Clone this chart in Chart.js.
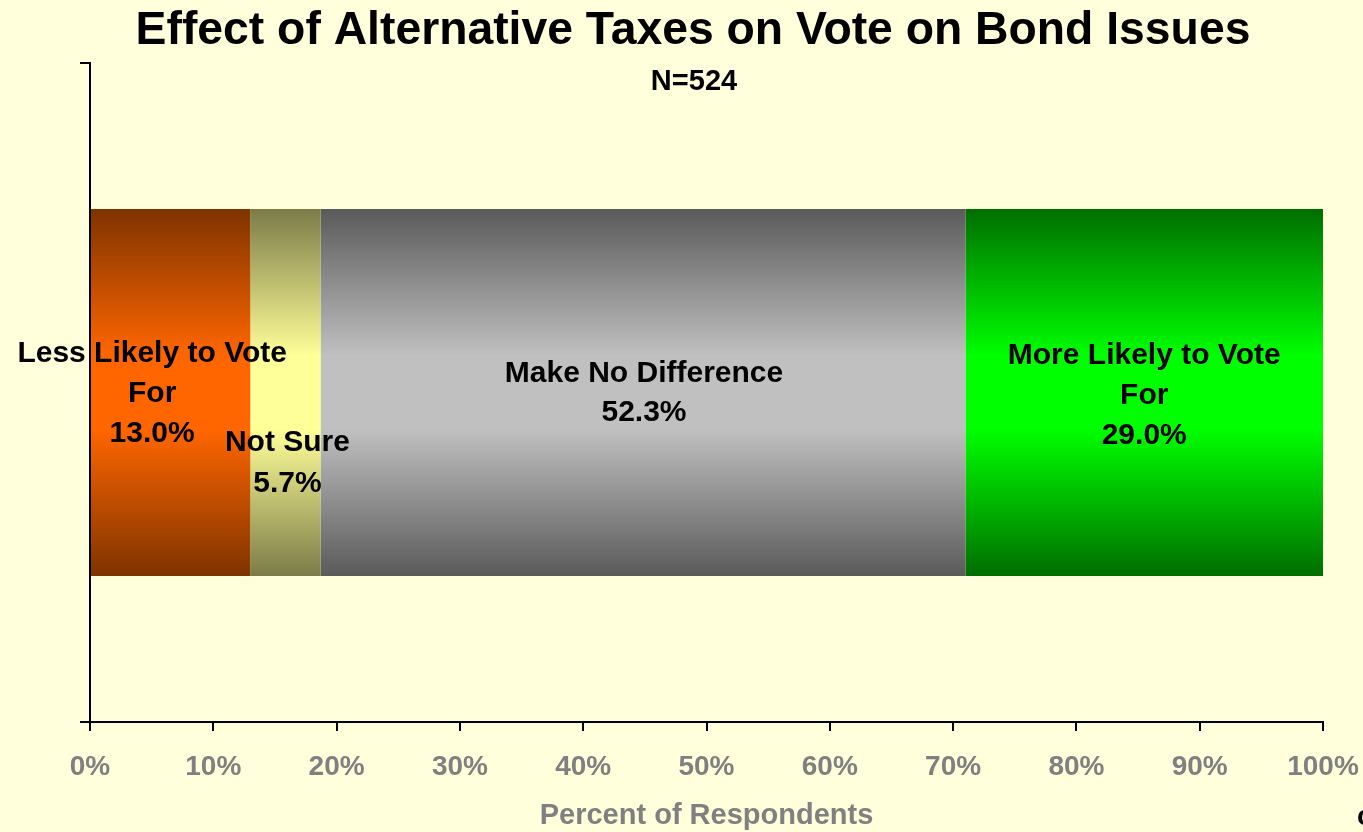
<!DOCTYPE html>
<html>
<head>
<meta charset="utf-8">
<script src="https://cdn.jsdelivr.net/npm/chart.js@4.4.1/dist/chart.umd.min.js"></script>
<style>
html,body{margin:0;padding:0;background:#FFFFDC;overflow:hidden;}
#wrap{width:1363px;height:832px;position:relative;}
canvas{display:block;}
</style>
</head>
<body>
<div id="wrap"><canvas id="c" width="1363" height="832"></canvas></div>
<script>
// ---- data ----
const categories = [''];
const seriesNames = ['Less Likely to Vote For', 'Not Sure', 'Make No Difference', 'More Likely to Vote For'];
const labelLines = [['Less Likely to Vote', 'For'], ['Not Sure'], ['Make No Difference'], ['More Likely to Vote', 'For']];
const seriesValues = [13.0, 5.7, 52.3, 29.0];
const xTickSuffix = '%';
const chartTitle = 'Effect of Alternative Taxes on Vote on Bond Issues';
const chartSubtitle = 'N=524';
const xAxisTitle = 'Percent of Respondents';

// ---- styles ----
const FONT = "'Liberation Sans', Arial, Helvetica, sans-serif";
const BG = '#FFFFDC';
const lightColors = ['#FF6600', '#FFFF99', '#C0C0C0', '#00FF00'];
const darkColors  = ['#7F3300', '#7B7B48', '#5A5A5A', '#006E00'];
const BAR_PCT = 0.557;
const labelStyle = [
  {dx: -18.5, dy: -39, gap: 40},
  {dx: 2,     dy: 50.5,  gap: 41},
  {dx: 1,     dy: -18.5, gap: 39},
  {dx: 0,     dy: -37,   gap: 40}
];

function barGradient(ctx, i) {
  const chart = ctx.chart;
  const area = chart.chartArea;
  const ys = chart.scales && chart.scales.y;
  if (!area || !ys) return lightColors[i];
  const c = ys.getPixelForValue(0);
  const half = (area.bottom - area.top) * BAR_PCT / 2;
  const g = chart.ctx.createLinearGradient(0, c - half, 0, c + half);
  g.addColorStop(0, darkColors[i]);
  g.addColorStop(0.4, lightColors[i]);
  g.addColorStop(0.6, lightColors[i]);
  g.addColorStop(1, darkColors[i]);
  return g;
}

const bgPlugin = {
  id: 'bg',
  beforeDraw(chart) {
    const c = chart.ctx;
    c.save();
    c.fillStyle = BG;
    c.fillRect(0, 0, chart.width, chart.height);
    c.restore();
  }
};

const textPlugin = {
  id: 'texts',
  afterDraw(chart) {
    const c = chart.ctx;
    c.save();
    c.fillStyle = '#000';
    c.textAlign = 'center';
    c.textBaseline = 'alphabetic';
    c.font = 'bold 46.3px ' + FONT;
    c.fillText(chartTitle, 693, 44);
    c.font = 'bold 29px ' + FONT;
    c.fillText(chartSubtitle, 694, 90);
    c.textAlign = 'left';
    c.font = 'bold 28px ' + FONT;
    c.fillText('c', 1357, 825);
    c.restore();
  }
};

const labelPlugin = {
  id: 'barLabels',
  afterDatasetsDraw(chart) {
    const c = chart.ctx;
    c.save();
    c.fillStyle = '#000';
    c.textAlign = 'center';
    c.textBaseline = 'middle';
    c.font = 'bold 30px ' + FONT;
    chart.data.datasets.forEach((ds, i) => {
      const bar = chart.getDatasetMeta(i).data[0];
      if (!bar) return;
      const st = labelStyle[i];
      const cx = (bar.x + bar.base) / 2 + st.dx;
      const lines = labelLines[i].concat([seriesValues[i].toFixed(1) + '%']);
      lines.forEach((ln, j) => {
        c.fillText(ln, cx, bar.y + st.dy + j * st.gap);
      });
    });
    c.restore();
  }
};

new Chart(document.getElementById('c'), {
  type: 'bar',
  data: {
    labels: categories,
    datasets: seriesNames.map((name, i) => ({
      label: name,
      data: [seriesValues[i]],
      backgroundColor: (ctx) => barGradient(ctx, i),
      borderWidth: 0,
      categoryPercentage: 1,
      barPercentage: BAR_PCT
    }))
  },
  options: {
    indexAxis: 'y',
    responsive: false,
    devicePixelRatio: 1,
    animation: false,
    layout: {padding: {left: 80, right: 40, top: 63, bottom: 0}},
    plugins: {
      legend: {display: false},
      tooltip: {enabled: false},
      title: {display: false}
    },
    scales: {
      x: {
        type: 'linear',
        stacked: true,
        min: 0,
        max: 100,
        afterFit(s) { s.height = 110; s.paddingLeft = 0; s.paddingRight = 0; },
        ticks: {
          stepSize: 10,
          callback: (v) => v + xTickSuffix,
          color: '#808080',
          font: {family: FONT, size: 28, weight: 'bold'},
          padding: 19,
          maxRotation: 0,
          autoSkip: false
        },
        grid: {drawOnChartArea: false, color: '#000', lineWidth: 2, tickLength: 9},
        border: {display: true, color: '#000', width: 2},
        title: {
          display: true,
          text: xAxisTitle,
          color: '#808080',
          font: {family: FONT, size: 29, weight: 'bold', lineHeight: 1.12},
          padding: 0
        }
      },
      y: {
        type: 'category',
        stacked: true,
        offset: true,
        afterFit(s) { s.width = 10; s.paddingTop = 0; s.paddingBottom = 0; },
        ticks: {display: false},
        grid: {offset: true, drawOnChartArea: false, color: '#000', lineWidth: 2, tickLength: 10},
        border: {display: true, color: '#000', width: 2}
      }
    }
  },
  plugins: [bgPlugin, labelPlugin, textPlugin]
});
</script>
</body>
</html>
